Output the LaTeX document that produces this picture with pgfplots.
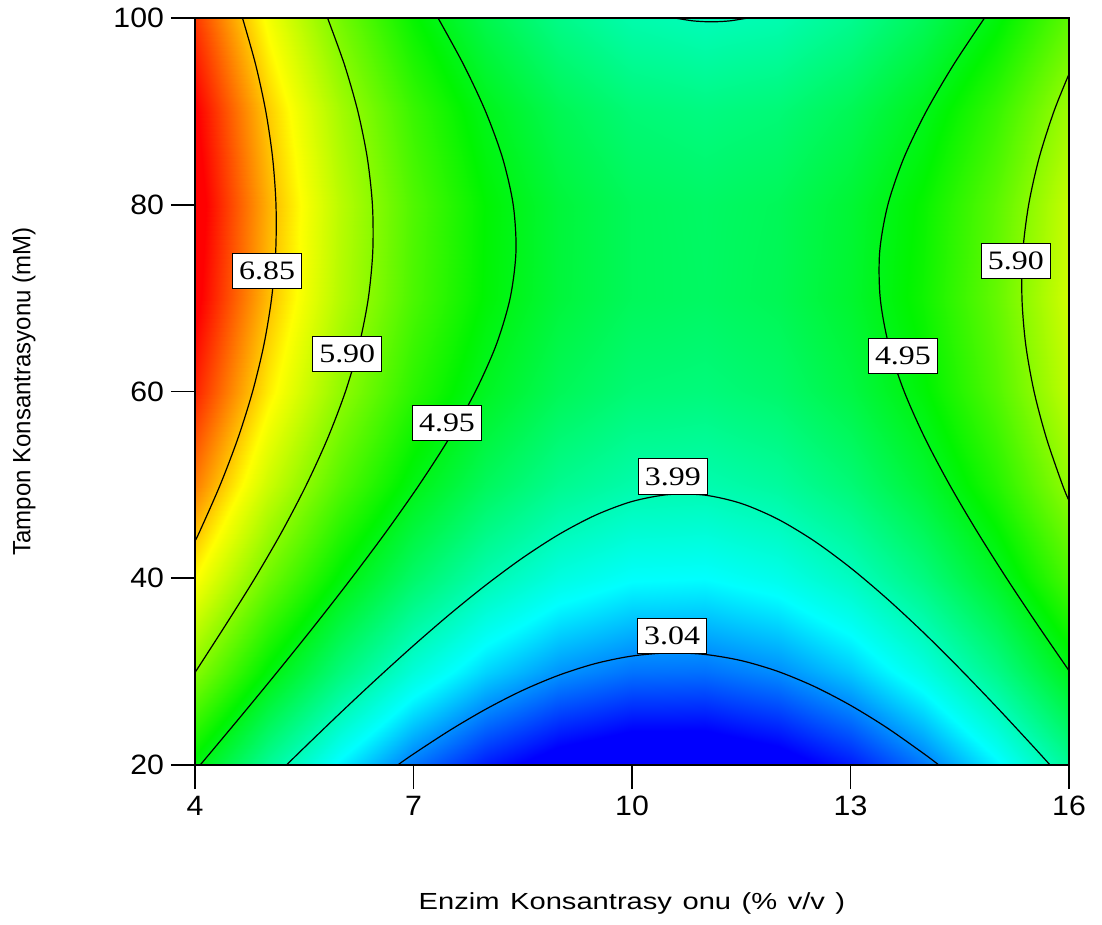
\documentclass[border=0pt]{standalone}
\usepackage{pgfplots}
\pgfplotsset{compat=1.18}
\usepackage{pgfplotstable}
\usepackage{fontspec}
\setmainfont{Liberation Sans}
\newfontfamily\clabfont[FakeStretch=1.2]{Liberation Serif}
\newfontfamily\xlabfont[FakeStretch=1.25,WordSpace=1.3]{Liberation Sans}
\newfontfamily\ylabfont[FakeStretch=0.96]{Liberation Sans}
\newfontfamily\tickfont[FakeStretch=1.08]{Liberation Sans}
\tikzset{clabel/.style={fill=white, draw=black, line width=0.5pt, inner xsep=3.3pt, inner ysep=4.3pt, font=\clabfont\fontsize{13.3}{15}\selectfont}}

\pgfplotstableread{
x y z
4 20 5.014
5 20 4.181
6 20 3.487
7 20 2.932
8 20 2.515
9 20 2.238
10 20 2.099
11 20 2.099
12 20 2.239
13 20 2.517
14 20 2.933
15 20 3.489
16 20 4.184
4 30 5.896
5 30 5.052
6 30 4.348
7 30 3.782
8 30 3.356
9 30 3.068
10 30 2.919
11 30 2.909
12 30 3.038
13 30 3.306
14 30 3.712
15 30 4.258
16 30 4.943
4 40 6.612
5 40 5.758
6 40 5.044
7 40 4.468
8 40 4.031
9 40 3.733
10 40 3.574
11 40 3.554
12 40 3.673
13 40 3.930
14 40 4.326
15 40 4.862
16 40 5.536
4 50 7.165
5 50 6.301
6 50 5.576
7 50 4.990
8 50 4.543
9 50 4.234
10 50 4.065
11 50 4.035
12 50 4.143
13 50 4.390
14 50 4.776
15 50 5.302
16 50 5.966
4 60 7.553
5 60 6.679
6 60 5.944
7 60 5.348
8 60 4.890
9 60 4.572
10 60 4.392
11 60 4.351
12 60 4.450
13 60 4.687
14 60 5.062
15 60 5.577
16 60 6.231
4 70 7.777
5 70 6.892
6 70 6.147
7 70 5.540
8 70 5.073
9 70 4.744
10 70 4.554
11 70 4.503
12 70 4.591
13 70 4.818
14 70 5.183
15 70 5.688
16 70 6.332
4 80 7.836
5 80 6.941
6 80 6.186
7 80 5.569
8 80 5.091
9 80 4.752
10 80 4.552
11 80 4.491
12 80 4.568
13 80 4.785
14 80 5.140
15 80 5.635
16 80 6.268
4 90 7.732
5 90 6.827
6 90 6.061
7 90 5.434
8 90 4.946
9 90 4.596
10 90 4.386
11 90 4.315
12 90 4.382
13 90 4.588
14 90 4.933
15 90 5.418
16 90 6.041
4 100 7.462
5 100 6.547
6 100 5.771
7 100 5.134
8 100 4.635
9 100 4.276
10 100 4.055
11 100 3.973
12 100 4.030
13 100 4.227
14 100 4.561
15 100 5.035
16 100 5.648
}\surfdata

\begin{document}
\begin{tikzpicture}
\useasboundingbox (-97.5pt,-80pt) rectangle (453.5pt,382.5pt);
\begin{axis}[
  at={(0,0)}, anchor=south west,
  scale only axis, width=437pt, height=373.5pt,
  xmin=4, xmax=16, ymin=20, ymax=100,
  xtick={4,7,10,13,16}, ytick={20,40,60,80,100},
  xtick pos=bottom, ytick pos=left,
  tick align=outside, major tick length=12pt,
  tick style={black, line width=0.8pt},
  axis line style={black, line width=0.8pt},
  axis on top,
  /pgf/number format/assume math mode=true,
  ticklabel style={font=\tickfont\fontsize{14}{16}\selectfont},
  colormap={de}{rgb255(0pt)=(0,0,255) rgb255(33pt)=(0,0,255) rgb255(148pt)=(0,255,255) rgb255(303pt)=(0,245,0) rgb255(453pt)=(255,255,0) rgb255(563pt)=(255,0,0) rgb255(577pt)=(255,0,0)},
  point meta min=2.07, point meta max=7.84,
  xlabel={Enzim Konsantrasy onu (\% v/v )},
  ylabel={Tampon Konsantrasyonu (mM)},
  xlabel style={at={(axis description cs:0.5,-0.1928)}, anchor=base, font=\xlabfont\fontsize{11.65}{14}\selectfont},
  ylabel style={at={(axis description cs:-0.1957,0.5)}, anchor=center, font=\ylabfont\fontsize{12.5}{15}\selectfont},
]
\addplot[surf, shader=interp, mesh/rows=9, mesh/cols=13, point meta=explicit]
  table[x=x, y=y, meta=z] {\surfdata};

% contour 3.04
\addplot[black, line width=0.6pt, smooth] coordinates {
(6.783,20) (7,21.18) (7.5,23.72) (8,26.01) (8.5,28.00) (9,29.63) (9.5,30.87) (10,31.67) (10.5,32.00) (11,31.84) (11.5,31.18) (12,30.03) (12.5,28.42) (13,26.39) (13.5,23.99) (14,21.25) (14.213,20)};
% contour 3.99 (bottom)
\addplot[black, line width=0.6pt, smooth] coordinates {
(5.256,20) (5.5,21.86) (6,25.61) (6.5,29.26) (7,32.79) (7.5,36.16) (8,39.31) (8.5,42.19) (9,44.71) (9.5,46.76) (10,48.22) (10.5,48.96) (11,48.90) (11.5,48.01) (12,46.34) (12.5,44.00) (13,41.12) (13.5,37.82) (14,34.20) (14.5,30.32) (15,26.26) (15.5,22.06) (15.74,20)};
% contour 3.99 (top)
\addplot[black, line width=0.6pt, smooth] coordinates {
(10.59,100) (10.84,99.69) (11.09,99.59) (11.34,99.69) (11.59,100)};
% contour 4.95 left
\addplot[black, line width=0.6pt, smooth] coordinates {
(4.071,20) (4.607,25) (5.134,30) (5.649,35) (6.148,40) (6.627,45) (7.078,50) (7.491,55) (7.850,60) (8.136,65) (8.327,70) (8.407,75) (8.369,80) (8.223,85) (7.989,90) (7.688,95) (7.337,100)};
% contour 4.95 right
\addplot[black, line width=0.6pt, smooth] coordinates {
(16.0,30.1) (15.569,35) (15.143,40) (14.738,45) (14.361,50) (14.022,55) (13.737,60) (13.524,65) (13.408,70) (13.401,75) (13.513,80) (13.732,85) (14.040,90) (14.415,95) (14.840,100)};
% contour 5.90 left
\addplot[black, line width=0.6pt, smooth] coordinates {
(4.0,29.9) (4.421,35) (4.822,40) (5.194,45) (5.529,50) (5.822,55) (6.066,60) (6.254,65) (6.380,70) (6.441,75) (6.436,80) (6.366,85) (6.236,90) (6.052,95) (5.820,100)};
% contour 5.90 right
\addplot[black, line width=0.6pt, smooth] coordinates {
(16.0,48.3) (15.91,50) (15.690,55) (15.520,60) (15.406,65) (15.354,70) (15.366,75) (15.446,80) (15.589,85) (15.793,90) (16.0,94.0)};
% contour 6.85
\addplot[black, line width=0.6pt, smooth] coordinates {
(4.0,44.0) (4.064,45) (4.346,50) (4.590,55) (4.791,60) (4.946,65) (5.052,70) (5.108,75) (5.112,80) (5.066,85) (4.972,90) (4.833,95) (4.652,100)};

\node[clabel] at (axis cs:4.99,72.9) {6.85};
\node[clabel] at (axis cs:6.09,64.0) {5.90};
\node[clabel] at (axis cs:7.46,56.6) {4.95};
\node[clabel] at (axis cs:10.56,50.9) {3.99};
\node[clabel] at (axis cs:10.55,33.8) {3.04};
\node[clabel] at (axis cs:13.72,63.8) {4.95};
\node[clabel] at (axis cs:15.27,74.0) {5.90};
\end{axis}
\end{tikzpicture}
\end{document}
